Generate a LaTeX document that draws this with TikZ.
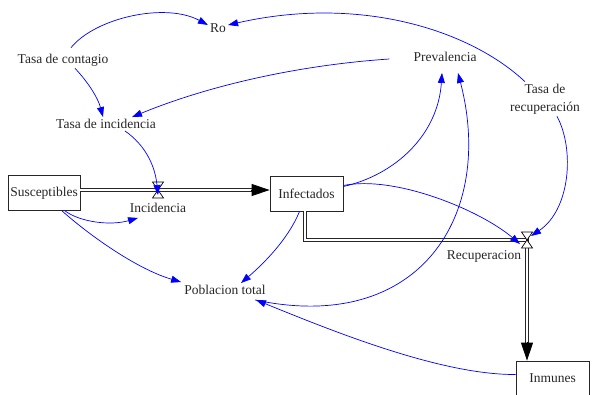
\documentclass[tikz,border=0pt]{standalone}
\usepackage{fontspec}
\setmainfont{Liberation Serif}
\usetikzlibrary{arrows.meta}
\begin{document}
\begin{tikzpicture}[x=1pt,y=-1pt,
  every node/.style={font=\fontsize{13.5}{18}\selectfont, text=black!85},
  lbl/.style={inner sep=2pt},
  stock/.style={draw=black!85, line width=0.8pt, minimum height=35pt, inner sep=2pt},
  pipe/.style={draw=black!85, line width=0.8pt, double=white, double distance=2.4pt},
  flowtip/.style={-{Triangle[length=18pt,width=12pt]}, line width=0.8pt, black},
  valve/.style={draw=black, fill=white, line width=0.7pt},
  link/.style={blue, line width=0.7pt, -{Triangle[length=10pt,width=7pt]}}
]
\useasboundingbox (0,0) rectangle (595,394);
% nodes
\node[lbl] (ro) at (218,28) {Ro};
\node[lbl] (contagio) at (63,60) {Tasa de contagio};
\node[lbl] (incid) at (106,124) {Tasa de incidencia};
\node[lbl] (prev) at (445,57) {Prevalencia};
\node[lbl, align=center] (trec) at (545,99) {Tasa de\\recuperación};
\node[stock, minimum width=72pt] (susc) at (44,193) {Susceptibles};
\node[stock, minimum width=73pt] (infect) at (306.5,193.5) {Infectados};
\node[stock, minimum width=73pt] (inmunes) at (552.5,378.5) {Inmunes};
\node[lbl] (pob) at (225,290) {Poblacion total};
\node[lbl] (incl) at (158,208) {Incidencia};
\node[lbl] (recl) at (484,256) {Recuperacion};
\coordinate (v1) at (158,190);
\coordinate (v2) at (527,240);
% flows
\draw[pipe, shorten >=16pt] (susc.east |- v1) -- (infect.west |- v1);
\draw[flowtip] (infect.west |- v1) ++(-19,0) -- (infect.west |- v1);
\draw[pipe, shorten >=16pt] ([xshift=-1.5pt]infect.south) |- (v2) -- (v2 |- inmunes.north);
\draw[flowtip] (v2 |- inmunes.north) ++(0,-19) -- (v2 |- inmunes.north);
\draw[valve, shift={(v1)}] (-5.5,-8) -- (5.5,-8) -- (-5.5,8) -- (5.5,8) -- cycle;
\draw[valve, shift={(v2)}] (-5.5,-8) -- (5.5,-8) -- (-5.5,8) -- (5.5,8) -- cycle;
% links
\draw[link] ([xshift=8pt,yshift=4pt]contagio.north) .. controls (95,18) and (165,2) .. ([yshift=3pt]ro.west);
\draw[link] ([xshift=-20pt]trec.north) .. controls (470,30) and (360,-5) .. ([yshift=3pt]ro.east);
\draw[link] ([xshift=12pt]contagio.south) .. controls (88,82) and (98,98) .. ([xshift=-3pt]incid.north);
\draw[link] ([xshift=-22pt,yshift=-2pt]prev.west) .. controls (300,65) and (210,85) .. ([xshift=26pt]incid.north);
\draw[link] ([xshift=19pt]incid.south) .. controls (145,145) and (155,165) .. ([yshift=-5pt]v1);
\draw[link] ([xshift=21pt]susc.south) .. controls (80,222) and (110,226) .. ([xshift=-20pt,yshift=-3pt]incl.south);
\draw[link] ([xshift=18pt]susc.south) .. controls (95,240) and (140,270) .. ([xshift=-1pt,yshift=1pt]pob.north west);
\draw[link] ([xshift=-7pt]infect.south) .. controls (288,240) and (262,265) .. ([xshift=16pt]pob.north);
\draw[link] ([yshift=7pt]infect.east) .. controls (395,175) and (438,135) .. ([xshift=-3pt,yshift=-9pt]prev.south);
\draw[link] ([xshift=30pt,yshift=-3pt]pob.south) .. controls (420,335) and (495,215) .. ([xshift=13pt,yshift=-9pt]prev.south);
\draw[link] ([yshift=8pt]infect.east) .. controls (395,175) and (480,210) .. ([xshift=-7pt,yshift=-4pt]v2);
\draw[link] ([xshift=12pt]trec.south) .. controls (575,150) and (570,210) .. ([xshift=4pt,yshift=4pt]v2);
\draw[link] ([yshift=4pt]inmunes.west) .. controls (440,375) and (330,330) .. ([xshift=31pt,yshift=-3pt]pob.south);
\end{tikzpicture}
\end{document}
